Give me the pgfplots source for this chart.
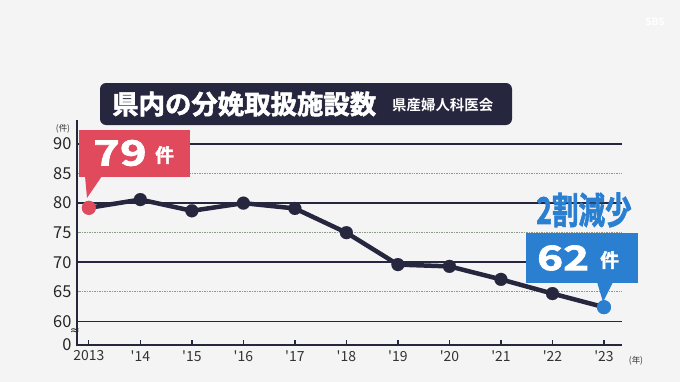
\documentclass[border=0pt]{standalone}
\usepackage{pgfplots}
\pgfplotsset{compat=1.18}
\usepackage{fontspec}
\setmainfont{Noto Sans CJK JP}[BoldFont={Noto Sans CJK JP Bold}]
\newfontfamily\heavy{Noto Sans CJK JP Bold}[FakeBold=2]
\newfontfamily\sym{DejaVu Sans}
\definecolor{navy}{HTML}{26263E}
\definecolor{bg}{HTML}{F4F4F4}
\definecolor{cred}{HTML}{E04A5C}
\definecolor{cblue}{HTML}{2A7FD0}
\definecolor{dgrid}{HTML}{8C9A8C}
\begin{document}
\begin{tikzpicture}
\fill[bg] (0,0) rectangle (680bp,-382bp);
\begin{axis}[
  at={(77bp,-345bp)}, anchor=south west,
  scale only axis, width=545bp, height=201bp,
  xmin=2012.77, xmax=2023.35, ymin=56, ymax=90,
  axis x line=bottom, axis y line=left,
  axis line style={navy, line width=2.2bp, -},
  clip=false,
  xtick={2013,2014,2015,2016,2017,2018,2019,2020,2021,2022,2023},
  xticklabels={2013,\textquotesingle14,\textquotesingle15,\textquotesingle16,\textquotesingle17,\textquotesingle18,\textquotesingle19,\textquotesingle20,\textquotesingle21,\textquotesingle22,\textquotesingle23},
  ytick={56,60,70,80,90}, yticklabels={0,60,70,80,90},
  extra y ticks={65,75,85}, extra y tick labels={65,75,85},
  extra y tick style={grid=major, major grid style={densely dotted, line width=0.9bp, dgrid}},
  ymajorgrids, major grid style={navy, line width=1.5bp},
  tick align=inside, major tick length=5bp,
  xtick style={navy, line width=1.3bp},
  ytick style={draw=none},
  x tick label style={font=\fontsize{14}{16}\selectfont, text=black!80, yshift=-2bp},
  y tick label style={font=\fontsize{16.5}{18}\selectfont, text=black!85, xshift=-2bp},
]
\addplot[navy, line width=4.5bp, line join=round, mark=*, mark size=6.5bp, mark options={fill=navy, draw=navy, line width=0.1bp}]
 coordinates {(2013,79.2) (2014,80.6) (2015,78.7) (2016,80.0) (2017,79.1) (2018,75.0) (2019,69.6) (2020,69.3) (2021,67.1) (2022,64.7) (2023,62.4)};
\addplot[cred, only marks, mark=*, mark size=7bp, mark options={fill=cred, draw=cred, line width=0.1bp}] coordinates {(2013,79.2)};
\addplot[cblue, only marks, mark=*, mark size=7bp, mark options={fill=cblue, draw=cblue, line width=0.1bp}] coordinates {(2023,62.4)};
\end{axis}
\begin{scope}[x=1bp,y=-1bp]
  % y axis extension
  \draw[navy, line width=2.2bp] (77,346) -- (77,120);
  \node[text=black!85, font=\sym\fontsize{12}{12}\selectfont, inner sep=0pt] at (75,332) {≈};
  \node[text=black!80, font=\fontsize{8.5}{9}\selectfont] at (63,129) {(件)};
  \node[text=black!80, font=\fontsize{8.5}{9}\selectfont] at (636,361) {(年)};
  % title
  \fill[navy, rounded corners=6bp] (100,83) rectangle (512,125);
  \node[anchor=west, text=white, font=\heavy\fontsize{26.5}{28}\selectfont, inner sep=0pt] at (112,104) {県内の分娩取扱施設数};
  \node[anchor=west, text=white, font=\bfseries\fontsize{14.5}{16}\selectfont, inner sep=0pt] at (392,105) {県産婦人科医会};
  % red callout
  \fill[cred] (79,130) rectangle (190,177);
  \fill[cred] (85,176) -- (102,176) -- (87,198) -- cycle;
  \node[anchor=west, text=white, font=\heavy\fontsize{35}{36}\selectfont, inner sep=0pt] at (93,153) {\scalebox{1.3}[1]{79}};
  \node[anchor=west, text=white, font=\heavy\fontsize{19}{20}\selectfont, inner sep=0pt] at (155,155) {件};
  % blue
  \node[anchor=center, text=cblue, font=\heavy\fontsize{37}{38}\selectfont, inner sep=0pt] at (584,210) {\scalebox{0.72}[1]{2割減少}};
  \fill[cblue] (526,233) rectangle (638,283);
  \fill[cblue] (597,282) -- (613,282) -- (603,302) -- cycle;
  \node[anchor=west, text=white, font=\heavy\fontsize{34}{36}\selectfont, inner sep=0pt] at (537,258) {\scalebox{1.3}[1]{62}};
  \node[anchor=west, text=white, font=\heavy\fontsize{19}{20}\selectfont, inner sep=0pt] at (600,260) {件};
  \node[text=white, font=\bfseries\fontsize{10}{10}\selectfont] at (655,22) {SBS};
\end{scope}
\pgfresetboundingbox
\path[use as bounding box] (0,0) rectangle (680bp,-382bp);
\end{tikzpicture}
\end{document}
